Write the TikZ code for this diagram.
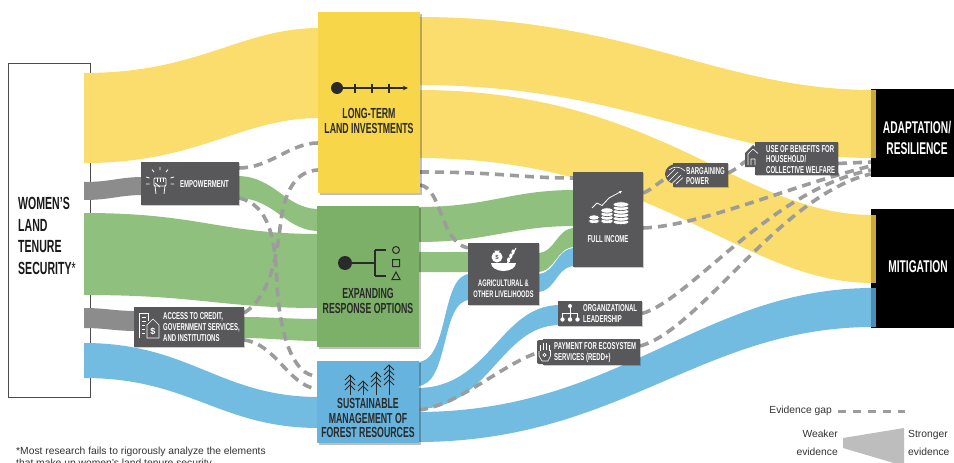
\documentclass[tikz,border=0pt]{standalone}
\usepackage{fontspec}
\setmainfont{Liberation Sans}
\newfontfamily\cf{Liberation Sans}[FakeStretch=0.6]
\usetikzlibrary{shadows,arrows.meta,calc}
\pgfdeclarelayer{bgl}
\pgfdeclarelayer{flowl}
\pgfsetlayers{bgl,flowl,main}
\definecolor{yflow}{HTML}{FADD6C}
\definecolor{ybox}{HTML}{F8D64A}
\definecolor{ydark}{HTML}{C9A93A}
\definecolor{gflow}{HTML}{8FC07D}
\definecolor{gbox}{HTML}{7CB068}
\definecolor{bflow}{HTML}{72BCE1}
\definecolor{bbox}{HTML}{66B4DD}
\definecolor{bdark}{HTML}{4A8FB5}
\definecolor{grayflow}{HTML}{8C8C8C}
\definecolor{dboxc}{HTML}{58585A}
\definecolor{dashc}{HTML}{9C9C9C}
\definecolor{wedgec}{HTML}{BDBDBD}
\definecolor{ink}{HTML}{2A2A2A}
\definecolor{notec}{HTML}{333333}
% band: color, x1, top1, bot1, x2, top2, bot2, ctrl-x1, ctrl-x2
\newcommand{\fband}[9]{\fill[#1] (#2,#3) .. controls (#8,#3) and (#9,#6) .. (#5,#6) -- (#5,#7) .. controls (#9,#7) and (#8,#4) .. (#2,#4) -- cycle;}
% tree: x, top, bottom, tiers
\newcommand{\ptree}[4]{\draw[ink,line width=0.9pt] (#1,#2) -- (#1,#3);
  \foreach \k in {1,...,#4} {\draw[ink,line width=0.9pt] ({#1-5},{#2+\k*5}) -- (#1,{#2+\k*5-5}) -- ({#1+5},{#2+\k*5});}}
\newcommand{\pcoin}[3]{\filldraw[fill=white,draw=dboxc,line width=0.6pt] (#1,#2) ellipse (#3 and 2.6);}
\begin{document}
\begin{tikzpicture}[x=1pt,y=-1pt,
  dashline/.style={draw=dashc,line width=3.6pt,dash pattern=on 9pt off 6pt},
  cbox/.style={inner sep=0pt,outer sep=0pt,drop shadow={shadow xshift=1.5pt,shadow yshift=-2pt,opacity=0.25,fill=black}},
  dkbox/.style={fill=dboxc,inner sep=0pt,outer sep=0pt,drop shadow={shadow xshift=1pt,shadow yshift=-1pt,opacity=0.2,fill=black}},
  wtxt/.style={text=white,font=\cf\bfseries\fontsize{10}{10.4}\selectfont,inner sep=0pt,align=left},
  ctxt/.style={text=ink,font=\cf\bfseries\fontsize{14.6}{15}\selectfont,inner sep=0pt,align=center},
  ktxt/.style={text=white,font=\cf\bfseries\fontsize{17}{21}\selectfont,inner sep=0pt,align=center},
  ltxt/.style={text=notec,font=\fontsize{10.3}{18}\selectfont,inner sep=0pt}]
\useasboundingbox (0,0) rectangle (954,463);
\begin{pgfonlayer}{bgl}
\fill[white] (0,0) rectangle (954,463);
\node[draw=black!70,line width=0.9pt,fill=white,minimum width=82pt,minimum height=334pt,inner sep=0pt] (wlts) at (49,230) {};
\end{pgfonlayer}
% ---------- boxes ----------
\node[cbox,fill=ybox,minimum width=102pt,minimum height=181pt] (lt) at (369,102.5) {};
\node[cbox,fill=gbox,minimum width=102pt,minimum height=141pt] (ex) at (368,276.5) {};
\node[cbox,fill=bbox,minimum width=102pt,minimum height=82pt] (sm) at (368,402) {};
\node[dkbox,minimum width=98pt,minimum height=43pt] (emp) at (190,183.5) {};
\node[dkbox,minimum width=110pt,minimum height=40pt] (acc) at (189,327) {};
\node[dkbox,minimum width=71pt,minimum height=62pt] (agri) at (503.5,274) {};
\node[dkbox,minimum width=70pt,minimum height=95pt] (fi) at (608,219.5) {};
\node[dkbox,minimum width=84pt,minimum height=25pt] (org) at (600,313.5) {};
\node[dkbox,minimum width=97pt,minimum height=26pt] (pay) at (591.5,352) {};
\node[dkbox,minimum width=55pt,minimum height=24pt] (barg) at (700.5,175) {};
\node[dkbox,minimum width=83pt,minimum height=33pt] (ben) at (796.5,158.5) {};
\node[fill=black,inner sep=0pt,minimum width=83pt,minimum height=88pt] (adapt) at (912.5,133) {};
\node[fill=black,inner sep=0pt,minimum width=83pt,minimum height=119pt] (miti) at (912.5,268.5) {};
% ---------- flows ----------
\begin{pgfonlayer}{flowl}
\fband{yflow}{84}{73}{163}{320}{28}{118}{200}{240}
\fband{grayflow}{84}{182}{200}{143}{177}{195}{110}{120}
\fband{gflow}{237}{176}{198}{319}{209}{231}{275}{285}
\fband{gflow}{84}{213}{295}{319}{234}{308}{200}{220}
\fband{grayflow}{84}{308}{328}{136}{311}{331}{105}{115}
\fband{gflow}{242}{317}{338}{319}{319}{341}{270}{290}
\fband{bflow}{84}{343}{378}{319}{397}{428}{190}{220}
\fband{yflow}{418}{17}{85}{873}{90}{158}{630}{720}
\fband{yflow}{418}{90}{158}{873}{215}{283}{660}{740}
\fband{gflow}{417}{207}{242}{575}{190}{226}{490}{510}
\fband{gflow}{417}{252}{272}{470}{252}{272}{440}{450}
\fband{gflow}{537}{253}{272}{575}{228}{247}{556}{556}
\fband{bflow}{537}{274}{292}{575}{248}{266}{556}{556}
\fband{bflow}{417}{362}{386}{470}{274}{300}{450}{440}
\fband{bflow}{417}{388}{409}{560}{305}{325}{490}{500}
\fband{bflow}{417}{412}{442}{873}{288}{327}{620}{700}
% dashed evidence-gap links
\draw[dashline] ([yshift=15.5pt]emp.east) .. controls (270,168) and (290,143) .. ([yshift=-40.5pt]lt.west);
\draw[dashline] ([yshift=-14.5pt]emp.east) .. controls (270,205) and (275,240) .. (277,283) .. controls (279,330) and (292,376) .. ([yshift=26pt]sm.west);
\draw[dashline] ([yshift=14pt]acc.east) .. controls (268,298) and (276,262) .. (280,228) .. controls (284,190) and (296,171) .. ([yshift=-67.5pt]lt.west);
\draw[dashline] ([yshift=-13pt]acc.east) .. controls (276,344) and (288,385) .. ([yshift=13pt]sm.west);
\draw[dashline] ([yshift=-69.5pt]lt.east) .. controls (500,172) and (520,178) .. ([yshift=41.5pt]fi.west);
\draw[dashline] ([yshift=-82.5pt]lt.east) .. controls (442,188) and (440,242) .. ([yshift=26pt]agri.west);
\draw[dashline] ([yshift=26.5pt]fi.east) .. controls (652,190) and (660,180) .. (barg.west);
\draw[dashline] ([yshift=2pt]barg.east) .. controls (740,168) and (745,158) .. (ben.west);
\draw[dashline] ([yshift=-5pt]ben.east) -- ([yshift=-29pt]adapt.west);
\draw[dashline] ([yshift=-8.5pt]fi.east) .. controls (700,226) and (790,186) .. ([yshift=-33pt]adapt.west);
\draw[dashline] (org.east) .. controls (690,300) and (770,190) .. ([yshift=-37pt]adapt.west);
\draw[dashline] ([yshift=6pt]pay.east) .. controls (700,330) and (780,195) .. ([yshift=-41pt]adapt.west);
\draw[dashline] ([yshift=-8pt]sm.east) .. controls (460,405) and (505,362) .. ([xshift=-3pt]pay.west);
\end{pgfonlayer}
% flow ends at the outcome boxes
\fill[ydark] (871,90) rectangle (876,158);
\fill[ydark] (871,215) rectangle (876,283);
\fill[bdark] (871,288) rectangle (876,327);
% ---------- texts ----------
\node[anchor=west,inner sep=0pt,align=left,text=black!90,font=\cf\bfseries\fontsize{17.6}{21.7}\selectfont] (t-wlts) at (18,236) {WOMEN’S\\LAND\\TENURE\\SECURITY{\mdseries*}};
\node[ctxt] (t-lt) at (369,121) {LONG-TERM\\LAND INVESTMENTS};
\node[ctxt] (t-ex) at (368,301) {EXPANDING\\RESPONSE OPTIONS};
\node[ctxt,font=\cf\bfseries\fontsize{14.6}{14.5}\selectfont] (t-sm) at (368,418) {SUSTAINABLE\\MANAGEMENT OF\\FOREST RESOURCES};
\node[ktxt] (t-adapt) at (917,138) {ADAPTATION/\\RESILIENCE};
\node[ktxt] (t-miti) at (918,267) {MITIGATION};
\node[wtxt,anchor=west] (t-emp) at (180,184) {EMPOWERMENT};
\node[wtxt,anchor=west,font=\cf\bfseries\fontsize{10}{11}\selectfont] (t-acc) at (163,327.5) {ACCESS TO CREDIT,\\GOVERNMENT SERVICES,\\AND INSTITUTIONS};
\node[wtxt,align=center,font=\cf\bfseries\fontsize{9.5}{11}\selectfont] (t-agri) at (503.5,289) {AGRICULTURAL \&\\OTHER LIVELIHOODS};
\node[wtxt] (t-fi) at (608,239) {FULL INCOME};
\node[wtxt,anchor=west] (t-org) at (583,313.5) {ORGANIZATIONAL\\LEADERSHIP};
\node[wtxt,anchor=west] (t-pay) at (554,352.5) {PAYMENT FOR ECOSYSTEM\\SERVICES (REDD+)};
\node[wtxt,anchor=west] (t-barg) at (686,176) {BARGAINING\\POWER};
\node[wtxt,anchor=west] (t-ben) at (766,159.5) {USE OF BENEFITS FOR\\HOUSEHOLD/\\COLLECTIVE WELFARE};
% ---------- icons ----------
% timeline
\fill[ink] (337,88) circle (6);
\draw[ink,line width=1.2pt,-{Stealth[length=5pt,width=4.5pt]}] (337,88) -- (408,88);
\foreach \tx in {355,372,389} {\draw[ink,line width=1.2pt] (\tx,83.5) -- (\tx,92.5);}
% options
\fill[ink] (345,263) circle (7);
\draw[ink,line width=1.2pt] (345,263) -- (375,263) (375,250) -- (375,276) (375,250) -- (386,250) (375,276) -- (386,276);
\draw[ink,line width=1pt] (396,250) circle (3.5) (392.5,259.5) rectangle (399.5,266.5) (392,279.5) -- (396,272) -- (400,279.5) -- cycle;
% trees
\ptree{350}{375}{395}{3}
\ptree{363}{381}{395}{2}
\ptree{376}{372}{395}{3}
\ptree{389}{365}{395}{4}
% fist
\begin{scope}[white,line width=0.8pt]
\draw[rounded corners=1pt] (154,178) rectangle (166,186);
\draw (157,178) -- (157,182) (160,178) -- (160,182) (163,178) -- (163,182);
\draw (155,186) -- (156,194) (165,186) -- (164,194) (155,183) -- (160,187);
\draw (160,167) -- (160,170) (152,169.5) -- (154,172) (168,169.5) -- (166,172);
\draw (146,177) -- (149.5,178) (174,177) -- (170.5,178) (146,184) -- (149.5,184) (174,184) -- (170.5,184);
\end{scope}
% building
\begin{scope}[white,line width=0.7pt]
\draw (139,338) -- (139,313) -- (148,313) -- (148,321);
\draw (141.5,317) -- (145.5,317) (141.5,321) -- (145.5,321) (141.5,325) -- (144.5,325) (141.5,329) -- (144.5,329) (141.5,333) -- (144.5,333);
\draw (147,338) -- (147,325) -- (153,319) -- (159,325) -- (159,338) -- cycle;
\node[text=white,font=\fontsize{9}{9}\selectfont\bfseries,inner sep=0pt] (i-dollar) at (153,331.5) {\$};
\end{scope}
% money bag and bowl
\fill[white] (497,257) circle (5.5);
\fill[white] (494,250.5) -- (500,250.5) -- (497,253.5) -- cycle;
\node[text=dboxc,font=\fontsize{6}{6}\selectfont\bfseries,inner sep=0pt] (i-bag) at (497,257.5) {\$};
\draw[white,line width=1pt] (507,264) -- (516,248);
\foreach \wy in {0,4,8} {\fill[white] ({513-\wy*0.55},{252+\wy}) ellipse (1.6 and 2.6);}
\fill[white] (491,263) arc[start angle=180,end angle=0,x radius=12.5,y radius=8] -- cycle;
% coins
\draw[white,line width=0.8pt,-{Stealth[length=3pt,width=3pt]}] (592,208) -- (597,203) -- (602,205.5) -- (609,198) -- (622,191);
\pcoin{594}{221}{5.5}\pcoin{594}{217.5}{5.5}
\pcoin{607}{221}{6.5}\pcoin{607}{217.5}{6.5}\pcoin{607}{214}{6.5}\pcoin{607}{210.5}{6.5}
\pcoin{621}{222}{8}\pcoin{621}{218.5}{8}\pcoin{621}{215}{8}\pcoin{621}{211.5}{8}\pcoin{621}{208}{8}\pcoin{621}{204.5}{8}
% hierarchy
\fill[white] (570,306) circle (2) (562.5,319.5) circle (2.2) (570,319.5) circle (2.2) (577.5,319.5) circle (2.2);
\draw[white,line width=0.7pt] (570,306) -- (570,313) (562.5,313) -- (577.5,313) (562.5,313) -- (562.5,318) (570,313) -- (570,318) (577.5,313) -- (577.5,318);
% hand
\fill[dboxc,rounded corners=2pt] (537,340) rectangle (552,364);
\begin{scope}[white,line width=0.6pt]
\draw (540,351) -- (540,345) (543,350) -- (543,342.5) (546,350) -- (546,342.5) (549,351) -- (549,344.5);
\draw (539,351) -- (539,356) -- (542,361) -- (548,361) -- (550.5,356) -- (550.5,350);
\draw (544.5,355) circle (1.6);
\end{scope}
% handshake
\fill[dboxc] (676,174) ellipse (11 and 10);
\begin{scope}[white,line width=0.6pt]
\draw (667,177) -- (675,169) (669,181) -- (678,172) (672,183.5) -- (681,175) (676,184) -- (683,177.5);
\draw (669,170) .. controls (674,166) and (680,166) .. (685,171);
\end{scope}
% house
\fill[dboxc] (745,167) -- (745,153) -- (753,145) -- (761,152) -- (761,167) -- cycle;
\draw[white,line width=0.6pt] (748,165) -- (748,154) -- (753,149) -- (758,153.5) (751,165) -- (751,159) -- (755,159) -- (755,165);
% ---------- legend ----------
\node[ltxt,anchor=east] (t-gap) at (832,411) {Evidence gap};
\coordinate (g1) at (838,411);
\coordinate (g2) at (905,411);
\draw[dashline,line width=3pt,dash pattern=on 8pt off 7pt] (g1) -- (g2);
\coordinate (w1) at (843,438);
\coordinate (w2) at (904,428);
\fill[wedgec] (w1) -- (w2) -- (904,466) -- (843,448) -- cycle;
\node[ltxt,anchor=east,align=right] (t-weak) at (838,442.5) {Weaker\\evidence};
\node[ltxt,anchor=west,align=left] (t-strong) at (908,442.5) {Stronger\\evidence};
% ---------- footnote ----------
\node[ltxt,anchor=base west,align=left,font=\fontsize{10.3}{14}\selectfont] (t-note) at (16,454) {*Most research fails to rigorously analyze the elements};
\node[ltxt,anchor=base west,font=\fontsize{10.3}{14}\selectfont] (t-note2) at (16,466.5) {that make up women’s land tenure security.};
\end{tikzpicture}
\end{document}
